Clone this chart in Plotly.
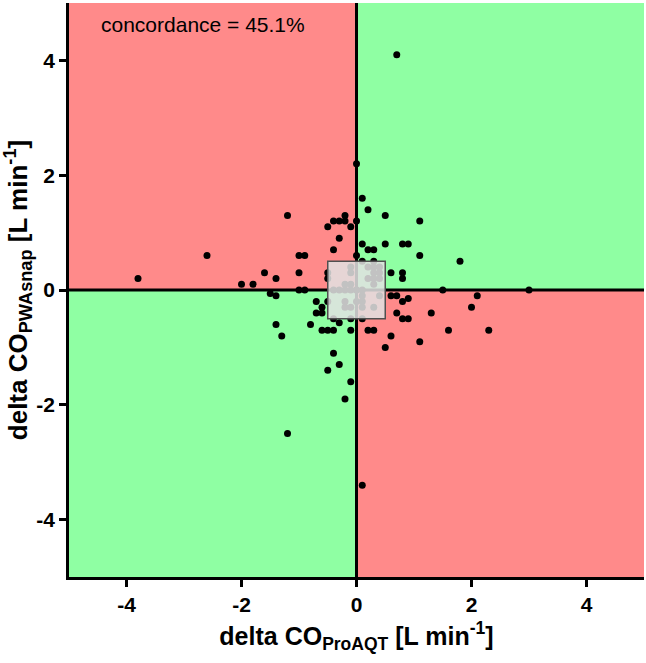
import plotly.graph_objects as go

# Data: delta CO ProAQT (x) vs delta CO PWAsnap (y), L/min
delta_co_proaqt = [
    -3.8, -2.6, 0.7, 0.0, -1.2, -1.2, 0.1, 3.0, 2.3, 2.0, 2.1, 1.8, 1.5, 1.6, 1.1, 1.1, 1.3,
    0.1, 0.2, -0.2, -0.4, -0.3, -0.2, 0.0, -0.5, -0.1, -0.3, -0.4, 0.1, 0.2, 0.3,
    -1.0, -0.9, 0.0, -1.6, -1.4, -1.0, -0.5, -2.0, -1.8, -1.5, -1.4, -1.0, -0.9,
    -0.7, -0.7, -0.6, -0.6, -0.5, -1.4, -1.3, -0.8, -0.6, -0.5, -0.4, -0.3, -0.4,
    -0.1, 0.1, -0.1, 0.2, 0.3, -0.4, -0.3, -0.5, -0.1, -0.2,
    0.5, 0.5, 0.8, 0.9, 1.1, 0.6, 0.8, 0.8, 0.6, 0.7, 0.8, 0.9, 0.7, 0.8, 0.9,
    0.6, 0.5, 0.1, 0.3, -0.5,
    # points inside the grey box
    -0.1, -0.1, 0.2, 0.3, 0.4, 0.3, 0.4, 0.2, 0.3, 0.4, 0.3, -0.2, -0.1, 0.0,
    -0.4, -0.3, -0.2, -0.1, 0.0, 0.1, 0.1, 0.1, 0.0, -0.2, -0.1, -0.2, 0.1, 0.3, 0.4,
]
delta_co_pwasnap = [
    0.2, 0.6, 4.1, 2.2, 1.3, -2.5, -3.4, 0.0, -0.7, -0.3, -0.1, 0.5, 0.0, -0.7, 1.2, -0.9, -0.4,
    1.6, 1.4, 1.3, 1.2, 1.2, 1.2, 1.2, 1.1, 1.1, 0.9, 0.7, 0.8, 0.7, 0.7,
    0.6, 0.6, 0.6, 0.3, 0.2, 0.3, 0.3, 0.1, 0.1, -0.06, -0.1, 0.0, 0.0,
    -0.2, -0.4, -0.4, -0.3, -0.2, -0.6, -0.8, -0.6, -0.7, -0.7, -0.7, -0.57, -0.5,
    -0.5, -0.5, -0.7, -0.7, -0.7, -1.1, -1.3, -1.4, -1.6, -1.9,
    0.8, 1.3, 0.8, 0.8, 0.6, 0.3, 0.3, 0.2, -0.1, -0.1, -0.2, -0.15, -0.4, -0.5, -0.5,
    -0.8, -1.0, 0.5, 0.5, 0.2,
    0.4, 0.3, 0.4, 0.4, 0.4, 0.3, 0.3, 0.2, 0.2, 0.2, 0.1, 0.1, 0.1, 0.0,
    0.0, 0.0, 0.0, 0.0, 0.0, 0.0, -0.1, -0.2, -0.2, -0.2, -0.3, -0.3, -0.3, -0.3, -0.1,
]

tick_vals = [-4, -2, 0, 2, 4]
tick_text = ["-4", "-2", "0", "2", "4"]
axis_range = [-5, 5]
box_half = 0.5
concordance_text = "concordance = 45.1%"

RED = "#FF8A8A"
GREEN = "#8FFFA3"
FONT = "Arial, Liberation Sans, sans-serif"

fig = go.Figure()
fig.add_trace(go.Scatter(
    x=delta_co_proaqt, y=delta_co_pwasnap, mode="markers",
    marker=dict(color="black", size=7, line=dict(width=0)),
    hoverinfo="x+y", showlegend=False,
))

quadrants = [
    (-5, 0, 0, 5, RED), (0, 5, 0, 5, GREEN),
    (-5, 0, -5, 0, GREEN), (0, 5, -5, 0, RED),
]
for x0, x1, y0, y1, c in quadrants:
    fig.add_shape(type="rect", x0=x0, x1=x1, y0=y0, y1=y1, xref="x", yref="y",
                  fillcolor=c, line=dict(width=0), layer="below")

fig.add_shape(type="line", x0=-5, x1=5, y0=0, y1=0, line=dict(color="black", width=3))
fig.add_shape(type="line", x0=0, x1=0, y0=-5, y1=5, line=dict(color="black", width=3))
fig.add_shape(type="rect", x0=-box_half, x1=box_half, y0=-box_half, y1=box_half,
              fillcolor="rgba(226,226,226,0.86)", line=dict(color="#505050", width=1.5))

fig.add_annotation(x=0.052, y=0.962, xref="paper", yref="paper", text=concordance_text,
                   showarrow=False, xanchor="left", yanchor="middle",
                   font=dict(family=FONT, size=21, color="black"))

axis_common = dict(
    range=axis_range, tickvals=tick_vals, ticktext=tick_text, showgrid=False, zeroline=False,
    showline=True, linecolor="black", linewidth=2.5, ticks="outside", ticklen=7,
    tickwidth=2.5, tickcolor="black", automargin=False,
    tickfont=dict(family=FONT, size=21, color="black", weight="bold"),
)
fig.update_xaxes(**axis_common,
                 title=dict(text="delta CO<sub>ProAQT</sub> [L min<sup>-1</sup>]",
                            font=dict(family=FONT, size=25, color="black", weight="bold"),
                            standoff=13))
fig.update_yaxes(**axis_common,
                 title=dict(text="delta CO<sub>PWAsnap</sub> [L min<sup>-1</sup>]",
                            font=dict(family=FONT, size=26, color="black", weight="bold"),
                            standoff=3))

fig.update_layout(
    width=646, height=663,
    margin=dict(l=69, r=2, t=3, b=86),
    plot_bgcolor="white", paper_bgcolor="white",
)
fig.write_html("out.html", config={"displayModeBar": False},
               post_script="document.body.style.margin='0';document.body.style.overflow='hidden';")
